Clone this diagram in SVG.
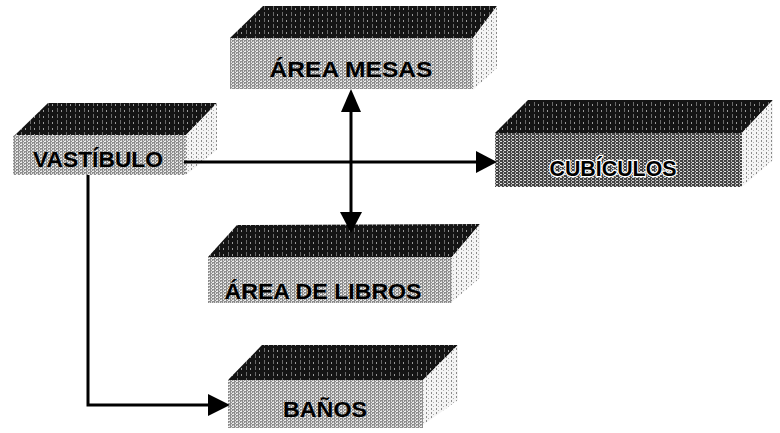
<svg xmlns="http://www.w3.org/2000/svg" width="780" height="433" viewBox="0 0 780 433">
<defs>
<pattern id="pTop" width="9" height="6" patternUnits="userSpaceOnUse">
<rect width="9" height="6" fill="#141414"/>
<rect x="3" y="0" width="1" height="4" fill="#6a6a6a"/>
<rect x="7" y="2" width="1" height="2" fill="#9a9a9a"/>
</pattern>
<pattern id="pFront" width="4" height="3" patternUnits="userSpaceOnUse">
<rect width="4" height="3" fill="#8e8e8e"/>
<rect x="0" y="0" width="2" height="1" fill="#f0f0f0"/>
<rect x="3" y="1" width="1" height="2" fill="#dadada"/>
<rect x="1" y="2" width="1" height="1" fill="#c8c8c8"/>
</pattern>
<pattern id="pFrontDark" width="4" height="3" patternUnits="userSpaceOnUse">
<rect width="4" height="3" fill="#444"/>
<rect x="0" y="0" width="2" height="1" fill="#e0e0e0"/>
<rect x="3" y="1" width="1" height="2" fill="#b0b0b0"/>
</pattern>
<pattern id="pSide" width="5" height="4" patternUnits="userSpaceOnUse">
<rect width="5" height="4" fill="#f4f4f4"/>
<rect x="1" y="0" width="1" height="2" fill="#8a8a8a"/>
<rect x="3" y="2" width="1" height="1" fill="#b0b0b0"/>
</pattern>
<style>
.top{fill:url(#pTop)}
.front{fill:url(#pFront)}
.frontDark{fill:url(#pFrontDark)}
.side{fill:url(#pSide)}
.lbl{font-family:"Liberation Sans","DejaVu Sans",sans-serif;font-weight:bold;font-size:22px;fill:#000;text-anchor:middle}
.inv{stroke:#fff;stroke-width:2.5;paint-order:stroke;stroke-linejoin:round}
.ln{stroke:#000;stroke-width:3;fill:none}
.hd{fill:#000}
</style>
</defs>

<g id="node-area-mesas">
<polygon class="top" points="230,38 263,6 497,6 473,38"/>
<polygon class="side" points="473,38 497,6 497,68 473,90"/>
<rect class="front" x="230" y="38" width="243" height="51"/>
<text class="lbl" x="351" y="77" textLength="163" lengthAdjust="spacingAndGlyphs">ÁREA MESAS</text>
</g>

<g id="node-vestibulo">
<polygon class="top" points="15,135 48,103 217,103 186,135"/>
<polygon class="side" points="186,135 217,103 217,150 186,175"/>
<rect class="front" x="13" y="135" width="173" height="40"/>
<text class="lbl" x="98" y="167" textLength="130" lengthAdjust="spacingAndGlyphs">VASTÍBULO</text>
</g>

<g id="node-cubiculos">
<polygon class="top" points="495,133 528,100 773,100 742,133"/>
<polygon class="side" points="742,133 773,100 773,160 742,187"/>
<rect class="frontDark" x="495" y="133" width="247" height="54"/>
<text class="lbl inv" x="613" y="176" textLength="127" lengthAdjust="spacingAndGlyphs">CUBÍCULOS</text>
</g>

<g id="node-area-libros">
<polygon class="top" points="208,257 237,225 480,224 452,257"/>
<polygon class="side" points="452,257 480,224 480,278 452,302"/>
<rect class="front" x="208" y="257" width="244" height="46"/>
<text class="lbl" x="323" y="299" textLength="197" lengthAdjust="spacingAndGlyphs">ÁREA DE LIBROS</text>
</g>

<g id="node-banos">
<polygon class="top" points="228,380 262,345 458,345 423,380"/>
<polygon class="side" points="423,380 458,345 458,400 423,425"/>
<rect class="front" x="228" y="380" width="195" height="48"/>
<text class="lbl" x="325" y="417" textLength="84" lengthAdjust="spacingAndGlyphs">BAÑOS</text>
</g>

<g id="connectors">
<line class="ln" x1="184" y1="162" x2="478" y2="162"/>
<polygon class="hd" points="476,151 497,162 476,173"/>
<line class="ln" x1="351" y1="110" x2="351" y2="214"/>
<polygon class="hd" points="341,112 351,89 361,112"/>
<polygon class="hd" points="340,212 351,233 362,212"/>
<polyline class="ln" points="88,175 88,405 210,405"/>
<polygon class="hd" points="208,394 230,405 208,416"/>
</g>
</svg>
